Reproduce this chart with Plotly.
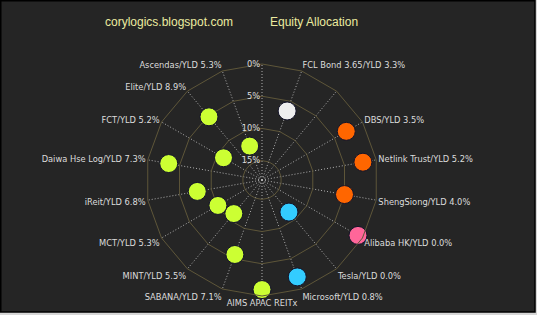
import plotly.graph_objects as go

W, H = 537, 315

categories = [" ", "FCL Bond 3.65/YLD 3.3%", "  ", "DBS/YLD 3.5%", "Netlink Trust/YLD 5.2%",
              "ShengSiong/YLD 4.0%", "Alibaba HK/YLD 0.0%", "Tesla/YLD 0.0%", "Microsoft/YLD 0.8%",
              "AIMS APAC REITx", "SABANA/YLD 7.1%", "MINT/YLD 5.5%", "MCT/YLD 5.3%", "iReit/YLD 6.8%",
              "Daiwa Hse Log/YLD 7.3%", "FCT/YLD 5.2%", "Elite/YLD 8.9%", "Ascendas/YLD 5.3%"]

bond_names = ["FCL Bond 3.65/YLD 3.3%"]
bond_vals = [6.6]

sg_names = ["DBS/YLD 3.5%", "Netlink Trust/YLD 5.2%", "ShengSiong/YLD 4.0%"]
sg_vals = [2.9, 2.1, 5.0]

hk_names = ["Alibaba HK/YLD 0.0%"]
hk_vals = [0.8]

us_names = ["Tesla/YLD 0.0%", "Microsoft/YLD 0.8%"]
us_vals = [11.5, 2.0]

reit_names = ["AIMS APAC REITx", "SABANA/YLD 7.1%", "MINT/YLD 5.5%", "MCT/YLD 5.3%", "iReit/YLD 6.8%",
              "Daiwa Hse Log/YLD 7.3%", "FCT/YLD 5.2%", "Elite/YLD 8.9%", "Ascendas/YLD 5.3%"]
reit_vals = [1.0, 5.7, 11.2, 10.1, 7.8, 3.3, 11.1, 5.2, 12.4]

radial_ticks = [0, 5, 10, 15]
radial_labels = ["0%", "5%", "10%", "15%"]
radial_max = 18

series = [
    (bond_names, bond_vals, "#eeeeee"),
    (sg_names, sg_vals, "#ff6600"),
    (hk_names, hk_vals, "#ff6699"),
    (us_names, us_vals, "#33ccff"),
    (reit_names, reit_vals, "#ccff33"),
]

fig = go.Figure()
# invisible helper so all categories exist on the angular axis
fig.add_trace(go.Scatterpolar(theta=categories, r=[0] * len(categories), mode="markers",
                              marker=dict(opacity=0, size=1), hoverinfo="skip", showlegend=False))
for names, vals, col in series:
    fig.add_trace(go.Scatterpolar(theta=names, r=vals, mode="markers", showlegend=False,
                                  marker=dict(size=18, color=col, line=dict(color="#14142a", width=1))))

cx, cy, R = 262, 180, 116
fig.update_layout(
    width=W, height=H,
    margin=dict(l=0, r=0, t=0, b=0),
    paper_bgcolor="#d6d6d6",
    plot_bgcolor="rgba(0,0,0,0)",
    showlegend=False,
    polar=dict(
        domain=dict(x=[(cx - R) / W, (cx + R) / W], y=[(H - cy - R) / H, (H - cy + R) / H]),
        bgcolor="rgba(0,0,0,0)",
        gridshape="linear",
        angularaxis=dict(
            type="category", categoryorder="array", categoryarray=categories,
            direction="clockwise", rotation=90,
            showline=True, linecolor="#5e5639", linewidth=1,
            showgrid=True, gridcolor="#b0b0b0", griddash="1px,2px", gridwidth=1,
            ticks="", tickfont=dict(family="DejaVu Sans", size=8.3, color="#dcdcdc"),
        ),
        radialaxis=dict(
            range=[radial_max, 0], angle=90, tickangle=90, side="counterclockwise",
            tickvals=radial_ticks, ticktext=radial_labels,
            showline=False, ticks="",
            showgrid=True, gridcolor="#5e5639", gridwidth=1,
            tickfont=dict(family="DejaVu Sans", size=8.3, color="#dcdcdc"),
        ),
    ),
    shapes=[dict(type="rect", xref="paper", yref="paper", layer="below",
                 x0=0.75 / W, x1=535 / W, y0=(H - 312) / H, y1=1 - 0.75 / H,
                 fillcolor="#252525", line=dict(color="#000000", width=1.5))],
    annotations=[
        dict(text="corylogics.blogspot.com", x=169.5 / W, y=1 - 22 / H, xref="paper", yref="paper",
             showarrow=False, xanchor="center", yanchor="middle",
             font=dict(family="Liberation Sans", size=12, color="#ebeba0")),
        dict(text="Equity Allocation", x=313.5 / W, y=1 - 22 / H, xref="paper", yref="paper",
             showarrow=False, xanchor="center", yanchor="middle",
             font=dict(family="Liberation Sans", size=12, color="#ebeba0")),
    ],
)

fig.write_html("out.html")
